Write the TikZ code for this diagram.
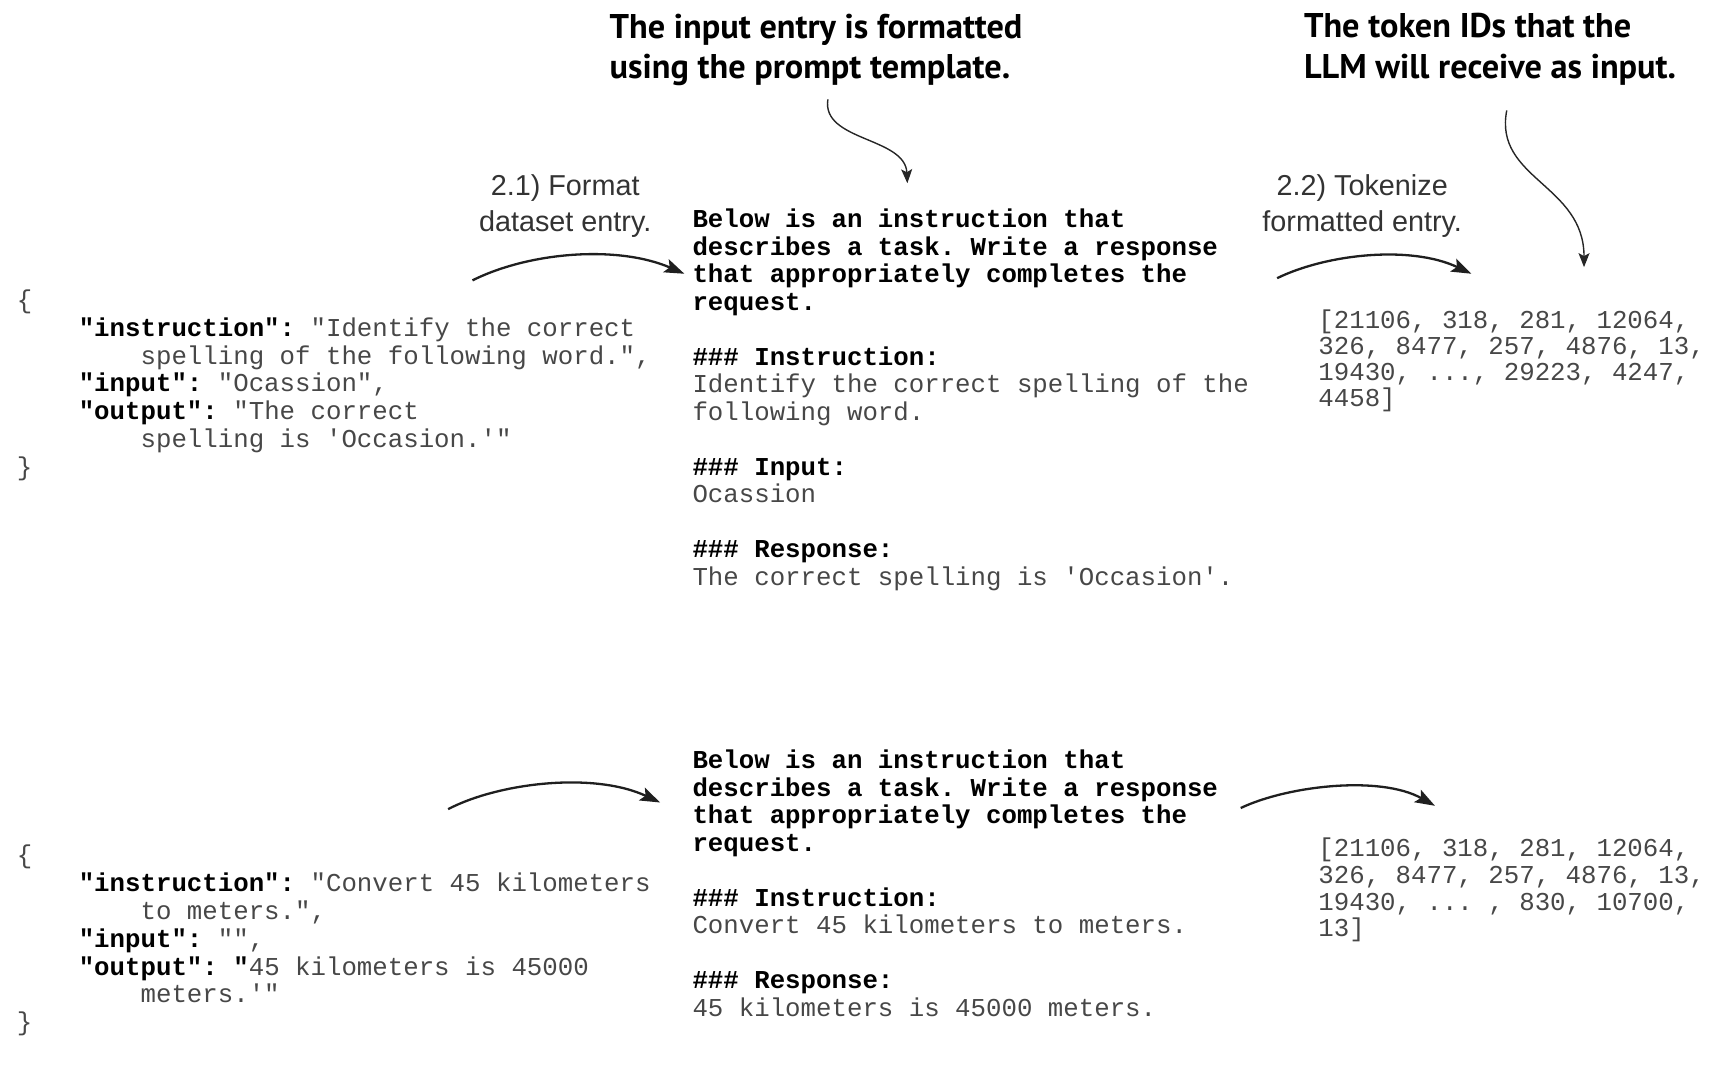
\documentclass[tikz,border=0pt]{standalone}
\usepackage{fontspec}
\usetikzlibrary{arrows.meta,calc}
\newfontfamily\mono{Liberation Mono}[Ligatures=TeXOff]
\newfontfamily\labfont{Liberation Sans}
\newfontfamily\annfont{PT Sans}
\frenchspacing
\newcommand\bt[1]{\textcolor{black}{\bfseries #1}}
\tikzset{
  codeblock/.style={font=\mono\fontsize{12.88pt}{#1}\selectfont, align=left, inner sep=0pt, anchor=north west, text=black!72},
  steplabel/.style={font=\labfont\fontsize{14.4pt}{17.7pt}\selectfont, align=center, inner sep=0pt, anchor=north, text=black!80},
  annot/.style={font=\annfont\bfseries\fontsize{17.15pt}{20.4pt}\selectfont, align=left, inner sep=0pt, anchor=north west, text=black},
  flow/.style={draw=black!88, line width=1.15pt, -{Stealth[length=10pt,width=7pt,inset=2pt]}},
  pointer/.style={draw=black!85, line width=0.7pt, -{Stealth[length=7pt,width=5.5pt,inset=1.5pt]}}
}
\begin{document}
\begin{tikzpicture}[x=0.552pt, y=-0.552pt]
\useasboundingbox (0,0) rectangle (1560,985.6);

% annotations
\node[annot] (ann1) at (552,12) {The input entry is formatted\\using the prompt template.};
\node[annot] (ann2) at (1181,12) {The token IDs that the\\LLM will receive as input.};

% step labels
\node[steplabel] (lab1) at (512,158) {2.1) Format\\dataset entry.};
\node[steplabel] (lab2) at (1234,158) {2.2) Tokenize\\formatted entry.};

% first example
\node[codeblock=13.95pt] (j1) at (15,262) {\{\\
\ \ \ \ \bt{"instruction":} "Identify the correct\\
\ \ \ \ \ \ \ \ spelling of the following word.",\\
\ \ \ \ \bt{"input":} "Ocassion",\\
\ \ \ \ \bt{"output":} "The correct\\
\ \ \ \ \ \ \ \ spelling is 'Occasion.'"\\
\}};

\node[codeblock=13.76pt] (p1) at (627,189) {\bt{Below is an instruction that}\\
\bt{describes a task. Write a response}\\
\bt{that appropriately completes the}\\
\bt{request.}\\
\mbox{}\\
\bt{\#\#\# Instruction:}\\
Identify the correct spelling of the\\
following word.\\
\mbox{}\\
\bt{\#\#\# Input:}\\
Ocassion\\
\mbox{}\\
\bt{\#\#\# Response:}\\
The correct spelling is 'Occasion'.};

\node[codeblock=13.1pt] (t1) at (1194,280) {[21106, 318, 281, 12064,\\
326, 8477, 257, 4876, 13,\\
19430, ..., 29223, 4247,\\
4458]};

% second example
\node[codeblock=13.95pt] (j2) at (15,765) {\{\\
\ \ \ \ \bt{"instruction":} "Convert 45 kilometers\\
\ \ \ \ \ \ \ \ to meters.",\\
\ \ \ \ \bt{"input":} "",\\
\ \ \ \ \bt{"output": "}45 kilometers is 45000\\
\ \ \ \ \ \ \ \ meters.'"\\
\}};

\node[codeblock=13.76pt] (p2) at (627,679) {\bt{Below is an instruction that}\\
\bt{describes a task. Write a response}\\
\bt{that appropriately completes the}\\
\bt{request.}\\
\mbox{}\\
\bt{\#\#\# Instruction:}\\
Convert 45 kilometers to meters.\\
\mbox{}\\
\bt{\#\#\# Response:}\\
45 kilometers is 45000 meters.};

\node[codeblock=13.3pt] (t2) at (1194,759) {[21106, 318, 281, 12064,\\
326, 8477, 257, 4876, 13,\\
19430, ... , 830, 10700,\\
13]};

% arrow end points
\coordinate (a1s) at (428,254);
\coordinate (a1e) at (620,248);
\coordinate (a2s) at (1157,252);
\coordinate (a2e) at (1333,248);
\coordinate (a3s) at (406,733);
\coordinate (a3e) at (598,727);
\coordinate (a4s) at (1124,732);
\coordinate (a4e) at (1300,730);
\coordinate (q1s) at (750,90);
\coordinate (q1e) at (822,166);
\coordinate (q2s) at (1365,100);
\coordinate (q2e) at (1435,242);

\draw[flow] (a1s) .. controls ($(a1s)+(52,-26)$) and ($(a1e)+(-60,-26)$) .. (a1e);
\draw[flow] (a2s) .. controls ($(a2s)+(45,-22)$) and ($(a2e)+(-55,-26)$) .. (a2e);
\draw[flow] (a3s) .. controls ($(a3s)+(46,-24)$) and ($(a3e)+(-60,-28)$) .. (a3e);
\draw[flow] (a4s) .. controls ($(a4s)+(42,-20)$) and ($(a4e)+(-50,-28)$) .. (a4e);

\draw[pointer] (q1s) .. controls ($(q1s)+(-6,38)$) and ($(q1e)+(-2,-42)$) .. (q1e);
\draw[pointer] (q2s) .. controls ($(q2s)+(-12,62)$) and ($(q2e)+(0,-75)$) .. (q2e);
\end{tikzpicture}
\end{document}
